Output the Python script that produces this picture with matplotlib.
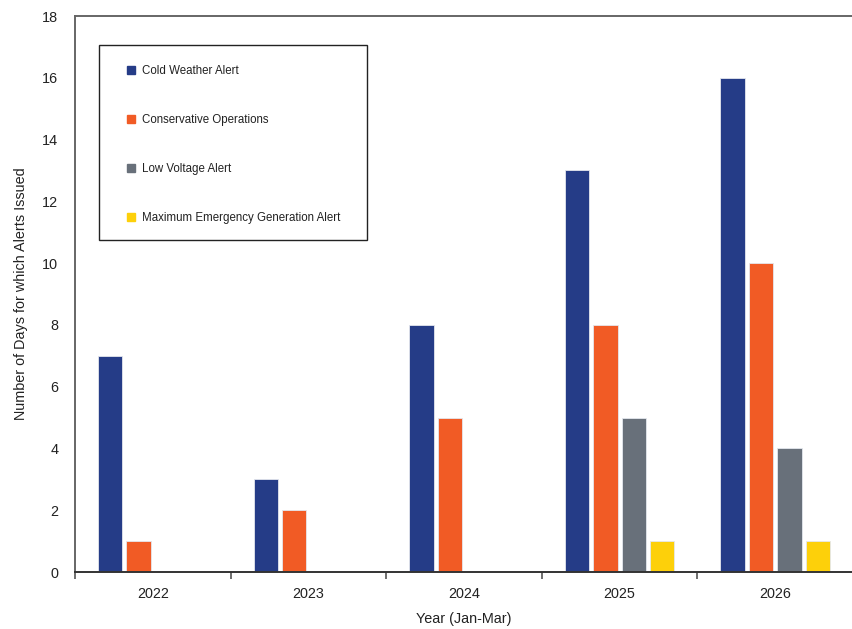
import matplotlib
matplotlib.use("Agg")
import matplotlib.pyplot as plt
from matplotlib.lines import Line2D
from matplotlib.patches import Rectangle
import numpy as np

plt.rcParams['font.family'] = ['Liberation Sans', 'DejaVu Sans']

years = ["2022", "2023", "2024", "2025", "2026"]
series_names = ["Cold Weather Alert", "Conservative Operations",
                "Low Voltage Alert", "Maximum Emergency Generation Alert"]
cold_weather = [7, 3, 8, 13, 16]
conservative_ops = [1, 2, 5, 8, 10]
low_voltage = [0, 0, 0, 5, 4]
max_emergency = [0, 0, 0, 1, 1]
colors = ["#253C87", "#F15B25", "#68707A", "#FDD00A"]

series = [cold_weather, conservative_ops, low_voltage, max_emergency]

W, H = 852, 629
fig = plt.figure(figsize=(W / 100, H / 100), dpi=100)
ax = fig.add_axes([75 / W, 1 - 572 / H, (853 - 75) / W, (572 - 16) / H])

x = np.arange(len(years))
pitch = 0.1825
width = 0.156
for i, (vals, col) in enumerate(zip(series, colors)):
    ax.bar(x + (i - 1.5) * pitch, vals, width=width, color=col,
           edgecolor="#e4e7ee", linewidth=0.6, zorder=2)

ax.set_xlim(-0.5, len(years) - 0.5)
ax.set_ylim(0, 18)
ax.set_yticks(np.arange(0, 19, 2))
ax.set_xticks(x)
ax.set_xticklabels(years)
ax.set_xticks(np.arange(-0.5, len(years), 1.0), minor=True)
ax.tick_params(axis='x', which='major', length=0, pad=11, labelsize=10.4, labelcolor="#222222")
ax.tick_params(axis='x', which='minor', length=5, width=1.2, color="#555555", direction='out')
ax.tick_params(axis='y', length=0, pad=12, labelsize=10.4, labelcolor="#222222")

ax.spines['right'].set_visible(False)
ax.spines['left'].set_color("#666666")
ax.spines['left'].set_linewidth(1.4)
ax.spines['top'].set_color("#666666")
ax.spines['top'].set_linewidth(1.4)
ax.spines['bottom'].set_color("#333333")
ax.spines['bottom'].set_linewidth(1.4)

ax.set_xlabel("Year (Jan-Mar)", fontsize=10.4, color="#222222", labelpad=8)
ax.set_ylabel("Number of Days for which Alerts Issued", fontsize=10.4,
              color="#222222", labelpad=10)

# Legend box drawn as a framed rectangle, entries placed inside it
box = Rectangle((99 / W, 1 - 240 / H), (367 - 99) / W, (240 - 45) / H,
                transform=fig.transFigure, facecolor="white",
                edgecolor="#222222", linewidth=1.0, zorder=5)
fig.add_artist(box)

handles = [Line2D([0], [0], marker='s', linestyle='none', markersize=6,
                  markerfacecolor=c, markeredgecolor=c) for c in colors]
leg = fig.legend(handles, series_names, loc='upper left',
                 bbox_to_anchor=(126.4 / W, 1 - 65 / H),
                 bbox_transform=fig.transFigure,
                 fontsize=8.3, frameon=False, labelspacing=3.2,
                 borderpad=0, handlelength=0.8, handletextpad=0.56,
                 borderaxespad=0, labelcolor="#222222")
leg.set_zorder(6)

fig.savefig("out.png", dpi=100)
